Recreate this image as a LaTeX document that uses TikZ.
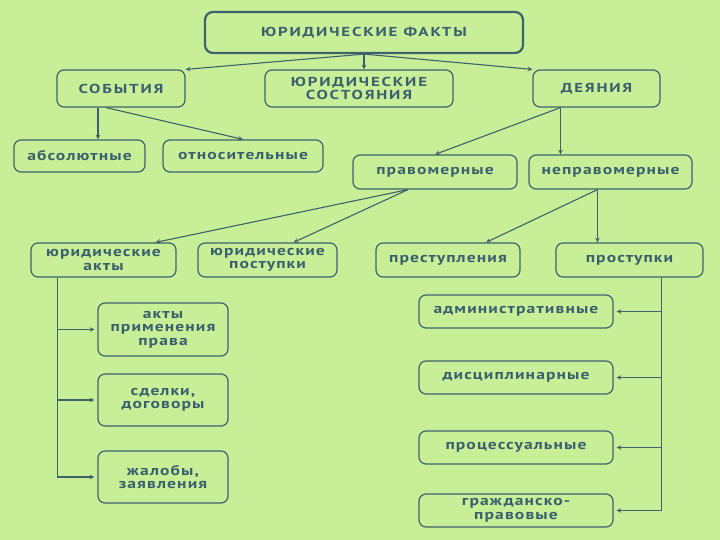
\documentclass[tikz,border=0pt]{standalone}
\usepackage{fontspec}
\setmainfont{PT Sans}[FakeStretch=1.25, LetterSpace=8]
\newfontfamily\capsfont{PT Sans}[FakeStretch=1.3, LetterSpace=14]
\usepackage{tikz}
\usetikzlibrary{shapes.geometric, arrows}
\definecolor{bgcol}{RGB}{200,239,152}
\definecolor{linecol}{RGB}{62,98,108}
\definecolor{txtcol}{RGB}{58,96,110}
\tikzstyle{box} = [
    rectangle,
    rounded corners=7pt,
    inner sep=1pt,
    text centered, align=center,
    font=\bfseries\fontsize{14}{13.5}\selectfont,
    text=txtcol,
    draw=linecol, line width=1.2pt]
\tikzstyle{capsbox} = [
    box,
    font=\capsfont\bfseries\fontsize{13}{12.5}\selectfont]
\tikzstyle{mainbox} = [
    capsbox, line width=2.2pt, rounded corners=8pt]
\tikzstyle{arrow} = [line width=1.1pt, draw=linecol, ->, >=stealth]

\begin{document}
\begin{tikzpicture}[x=1pt, y=-1pt]
        \fill[bgcol] (0,0) rectangle (720,540);
        \useasboundingbox (0,0) rectangle (720,540);

        \node (fakty) [mainbox, minimum width=318pt, minimum height=41pt] at (364,32.5) {ЮРИДИЧЕСКИЕ ФАКТЫ};

        \node (sobytiya) [capsbox, minimum width=128pt, minimum height=37pt] at (121,88.5) {СОБЫТИЯ};
        \node (sostoyaniya) [capsbox, minimum width=188pt, minimum height=37pt] at (359,88.5) {ЮРИДИЧЕСКИЕ\\СОСТОЯНИЯ};
        \node (deyaniya) [capsbox, minimum width=127pt, minimum height=37pt] at (596.5,88.5) {ДЕЯНИЯ};

        \node (absolut) [box, minimum width=131pt, minimum height=32pt] at (79.5,156) {абсолютные};
        \node (otnosit) [box, minimum width=160pt, minimum height=32pt] at (243,156) {относительные};

        \node (pravomer) [box, minimum width=164pt, minimum height=34pt] at (435,172) {правомерные};
        \node (nepravomer) [box, minimum width=163pt, minimum height=34pt] at (610.5,172) {неправомерные};

        \node (yuract) [box, minimum width=145pt, minimum height=34pt] at (103.5,260) {юридические\\акты};
        \node (yurpost) [box, minimum width=139pt, minimum height=34pt] at (267.5,260) {юридические\\поступки};
        \node (prestup) [box, minimum width=144pt, minimum height=34pt] at (448,260) {преступления};
        \node (prostup) [box, minimum width=147pt, minimum height=34pt] at (629.5,260) {проступки};

        \node (aktprim) [box, minimum width=130pt, minimum height=53pt] at (163,329.5) {акты\\применения\\права};
        \node (sdelki) [box, minimum width=130pt, minimum height=52pt] at (163,400) {сделки,\\договоры};
        \node (zhaloby) [box, minimum width=130pt, minimum height=52pt] at (163,477) {жалобы,\\заявления};

        \node (admin) [box, minimum width=194pt, minimum height=33pt] at (516,311.5) {административные};
        \node (discip) [box, minimum width=194pt, minimum height=33pt] at (516,377.5) {дисциплинарные};
        \node (process) [box, minimum width=194pt, minimum height=33pt] at (516,447.5) {процессуальные};
        \node (grazhd) [box, minimum width=194pt, minimum height=33pt] at (516,510.5) {гражданско-\\правовые};

        % first level
        \draw [arrow] (fakty.south) -- (sobytiya.north east);
        \draw [arrow] (fakty.south) -- (fakty.south |- sostoyaniya.north);
        \draw [arrow] (fakty.south) -- (deyaniya.north west);

        \draw [arrow] ([xshift=-23pt]sobytiya.south) -- ([xshift=-23pt]sobytiya.south |- absolut.north);
        \draw [arrow] ([xshift=-15pt]sobytiya.south) -- (otnosit.north);

        \draw [arrow] ([xshift=-36pt]deyaniya.south) -- (pravomer.north);
        \draw [arrow] ([xshift=-36pt]deyaniya.south) -- ([xshift=-36pt]deyaniya.south |- nepravomer.north);

        \draw [arrow] ([xshift=-27pt]pravomer.south) -- ([xshift=52pt]yuract.north);
        \draw [arrow] ([xshift=-27pt]pravomer.south) -- ([xshift=26pt]yurpost.north);

        \draw [arrow] ([xshift=-13pt]nepravomer.south) -- ([xshift=38pt]prestup.north);
        \draw [arrow] ([xshift=-13pt]nepravomer.south) -- ([xshift=-13pt]nepravomer.south |- prostup.north);

        % side branches
        \draw [arrow, shorten >=3pt] ([xshift=-46pt]yuract.south) |- (aktprim.west);
        \draw [arrow, shorten >=3pt] ([xshift=-46pt]yuract.south) |- (sdelki.west);
        \draw [arrow, shorten >=3pt] ([xshift=-46pt]yuract.south) |- (zhaloby.west);

        \draw [arrow, shorten >=3pt] ([xshift=32pt]prostup.south) |- (admin.east);
        \draw [arrow, shorten >=3pt] ([xshift=32pt]prostup.south) |- (discip.east);
        \draw [arrow, shorten >=3pt] ([xshift=32pt]prostup.south) |- (process.east);
        \draw [arrow, shorten >=3pt] ([xshift=32pt]prostup.south) |- (grazhd.east);
    \end{tikzpicture}
\end{document}
